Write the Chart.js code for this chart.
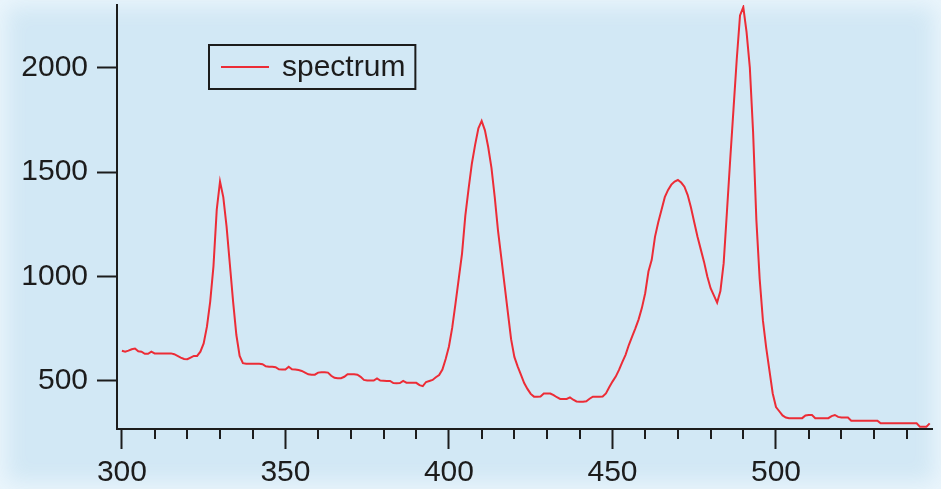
<!DOCTYPE html>
<html>
<head>
<meta charset="utf-8">
<script src="https://cdn.jsdelivr.net/npm/chart.js@4/dist/chart.umd.min.js"></script>
<style>
html, body { margin: 0; padding: 0; }
body {
    width: 941px;
    height: 489px;
    overflow: hidden;
    background: #d2e8f5;
    box-shadow: inset 0 0 22px 6px rgba(238, 247, 253, 0.9);
}
#chart { display: block; }
</style>
</head>
<body>
<canvas id="chart" width="941" height="489"></canvas>
<script>
const wavelength = [
    300, 301, 302, 303, 304, 305, 306, 307, 308, 309,
    310, 311, 312, 313, 314, 315, 316, 317, 318, 319,
    320, 321, 322, 323, 324, 325, 326, 327, 328, 329,
    330, 331, 332, 333, 334, 335, 336, 337, 338, 339,
    340, 341, 342, 343, 344, 345, 346, 347, 348, 349,
    350, 351, 352, 353, 354, 355, 356, 357, 358, 359,
    360, 361, 362, 363, 364, 365, 366, 367, 368, 369,
    370, 371, 372, 373, 374, 375, 376, 377, 378, 379,
    380, 381, 382, 383, 384, 385, 386, 387, 388, 389,
    390, 391, 392, 393, 394, 395, 396, 397, 398, 399,
    400, 401, 402, 403, 404, 405, 406, 407, 408, 409,
    410, 411, 412, 413, 414, 415, 416, 417, 418, 419,
    420, 421, 422, 423, 424, 425, 426, 427, 428, 429,
    430, 431, 432, 433, 434, 435, 436, 437, 438, 439,
    440, 441, 442, 443, 444, 445, 446, 447, 448, 449,
    450, 451, 452, 453, 454, 455, 456, 457, 458, 459,
    460, 461, 462, 463, 464, 465, 466, 467, 468, 469,
    470, 471, 472, 473, 474, 475, 476, 477, 478, 479,
    480, 481, 482, 483, 484, 485, 486, 487, 488, 489,
    490, 491, 492, 493, 494, 495, 496, 497, 498, 499,
    500, 501, 502, 503, 504, 505, 506, 507, 508, 509,
    510, 511, 512, 513, 514, 515, 516, 517, 518, 519,
    520, 521, 522, 523, 524, 525, 526, 527, 528, 529,
    530, 531, 532, 533, 534, 535, 536, 537, 538, 539,
    540, 541, 542, 543, 544, 545, 546, 547
];
const counts = [
    645, 640, 645, 652, 655, 642, 640, 630, 630, 640,
    632, 632, 632, 632, 632, 632, 628, 620, 612, 605,
    604, 612, 620, 620, 640, 680, 760, 880, 1050, 1320,
    1455, 1380, 1240, 1060, 880, 720, 620, 585, 582, 582,
    582, 582, 582, 580, 570, 568, 568, 566, 556, 555,
    555, 568, 556, 555, 552, 548, 540, 532, 530, 530,
    540, 542, 542, 540, 525, 515, 513, 513, 520, 532,
    532, 532, 530, 520, 505, 502, 502, 502, 512, 502,
    501, 500, 500, 490, 489, 490, 500, 492, 492, 492,
    491, 480, 475, 495, 500, 505, 518, 528, 555, 605,
    665, 755, 870, 990, 1110, 1290, 1420, 1540, 1630, 1710,
    1745, 1700, 1620, 1520, 1380, 1220, 1090, 960, 830, 700,
    615, 570, 530, 490, 462, 438, 425, 425, 426, 440,
    440, 440, 432, 422, 414, 414, 414, 421, 410, 402,
    401, 401, 403, 415, 425, 425, 425, 426, 440, 470,
    497, 521, 553, 590, 625, 672, 712, 752, 795, 850,
    920, 1024, 1080, 1190, 1260, 1320, 1380, 1415, 1440, 1455,
    1462, 1450, 1430, 1390, 1330, 1260, 1190, 1130, 1070, 1000,
    944, 910, 875, 930, 1064, 1310, 1560, 1800, 2040, 2250,
    2290, 2170, 2000, 1690, 1270, 990, 790, 660, 550, 440,
    375, 355, 335, 325, 322, 322, 322, 322, 322, 335,
    337, 337, 322, 322, 322, 322, 322, 332, 337, 328,
    325, 325, 325, 310, 310, 310, 310, 310, 310, 310,
    310, 310, 297, 297, 297, 297, 297, 297, 297, 297,
    297, 297, 297, 297, 281, 281, 281, 297
];
const seriesName = 'spectrum';

// axis ticks
const xMajorTicks = [300, 350, 400, 450, 500];
const xMinorTicks = [310, 320, 330, 340, 360, 370, 380, 390, 410, 420, 430, 440,
                     460, 470, 480, 490, 510, 520, 530, 540];
const yTicks = [500, 1000, 1500, 2000];

const lineColor = 'rgb(236,44,54)';
const inkColor = '#1c1c1c';
const tickFont = { family: '"Liberation Sans", Arial, sans-serif', size: 30 };

// short minor ticks under the x axis
const minorTicks = {
    id: 'minorTicks',
    afterDraw(chart) {
        const xs = chart.scales.x;
        const c = chart.ctx;
        c.save();
        c.strokeStyle = inkColor;
        c.lineWidth = 2;
        xMinorTicks.forEach(v => {
            const px = Math.round(xs.getPixelForValue(v));
            c.beginPath();
            c.moveTo(px, xs.top);
            c.lineTo(px, xs.top + 10);
            c.stroke();
        });
        c.restore();
    }
};

// boxed legend inside the plot area
const boxLegend = {
    id: 'boxLegend',
    afterDraw(chart) {
        const a = chart.chartArea;
        const ds = chart.data.datasets[0];
        const c = chart.ctx;
        c.save();
        c.font = '30px ' + tickFont.family;
        const tw = c.measureText(ds.label).width;
        const bx = a.left + 92, by = a.top + 40;
        const bw = 12 + 48 + 13 + tw + 10, bh = 44;
        c.strokeStyle = inkColor;
        c.lineWidth = 2;
        c.strokeRect(bx, by, bw, bh);
        c.strokeStyle = ds.borderColor;
        c.beginPath();
        c.moveTo(bx + 12, by + bh / 2);
        c.lineTo(bx + 60, by + bh / 2);
        c.stroke();
        c.fillStyle = inkColor;
        c.textBaseline = 'middle';
        c.fillText(ds.label, bx + 73, by + bh / 2 + 1);
        c.restore();
    }
};

const points = wavelength.map((w, i) => ({ x: w, y: counts[i] }));

var ctx = document.getElementById('chart').getContext('2d');
var mychart = new Chart(ctx, {
    type: 'line',
    data: {
        datasets: [{
            label: seriesName,
            data: points,
            borderColor: lineColor,
            borderWidth: 2,
            pointRadius: 0,
            tension: 0,
            fill: false
        }]
    },
    options: {
        responsive: false,
        animation: false,
        devicePixelRatio: 1,
        layout: { padding: { top: 5, right: 9, left: 0, bottom: 0 } },
        plugins: {
            legend: { display: false },
            tooltip: { enabled: false }
        },
        scales: {
            x: {
                type: 'linear',
                min: 298.5,
                max: 547.7,
                afterBuildTicks: s => { s.ticks = xMajorTicks.map(v => ({ value: v })); },
                afterFit: s => { s.height = 60; s.paddingLeft = 0; s.paddingRight = 0; },
                border: { color: inkColor, width: 2 },
                grid: { drawOnChartArea: false, tickLength: 20, tickWidth: 2, tickColor: inkColor },
                ticks: { font: tickFont, color: inkColor, padding: 6, maxRotation: 0, callback: v => String(v) }
            },
            y: {
                min: 270,
                max: 2300,
                afterBuildTicks: s => { s.ticks = yTicks.map(v => ({ value: v })); },
                afterFit: s => { s.width = 117; s.paddingTop = 0; s.paddingBottom = 0; },
                border: { color: inkColor, width: 2 },
                grid: { drawOnChartArea: false, tickLength: 20, tickWidth: 2, tickColor: inkColor },
                ticks: { font: tickFont, color: inkColor, padding: 9, callback: v => String(v) }
            }
        }
    },
    plugins: [minorTicks, boxLegend]
});
</script>
</body>
</html>
